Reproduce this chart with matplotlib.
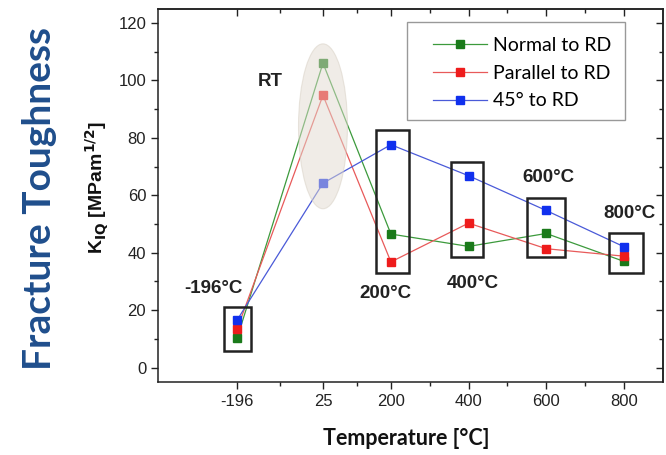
import matplotlib
matplotlib.use("Agg")
import matplotlib.pyplot as plt
from matplotlib.patches import Rectangle, Ellipse
from matplotlib.ticker import FixedLocator, MultipleLocator, NullFormatter

# Test temperatures [°C]
temperatures = [-196, 25, 200, 400, 600, 800]
tick_labels = ["-196", "25", "200", "400", "600", "800"]

# Fracture toughness K_IQ [MPa m^1/2] per loading orientation
normal_to_rd = [10.3, 106.0, 46.5, 42.2, 46.7, 37.0]
parallel_to_rd = [13.5, 94.8, 36.8, 50.3, 41.4, 38.8]
deg45_to_rd = [16.6, 64.2, 77.6, 66.8, 54.7, 42.1]

series_names = ["Normal to RD", "Parallel to RD", "45° to RD"]

# Grouping boxes around each temperature
box_low = [5.7, 33.0, 38.4, 38.4, 32.8]
box_high = [21.0, 82.7, 71.5, 59.2, 46.8]
box_captions = ["-196°C", "200°C", "400°C", "600°C", "800°C"]

W, H = 666, 455
fig = plt.figure(figsize=(W / 100, H / 100), dpi=100)
ax = fig.add_axes([0.2372, 0.1604, 0.7578, 0.8209])

line_colors = ["#3c9a3c", "#e85a5a", "#4a5ad8"]
marker_colors = ["#1a7a1a", "#ee1c1c", "#1030ee"]
for vals, name, lc, mc in zip([normal_to_rd, parallel_to_rd, deg45_to_rd],
                              series_names, line_colors, marker_colors):
    ax.plot(temperatures, vals, color=lc, lw=0.9, marker="s", ms=6,
            mfc=mc, mec=mc, label=name, zorder=3)

# Room temperature highlight
ax.add_patch(Ellipse((25, 84.0), 126, 57.4, facecolor="#e2dbd0",
                     edgecolor="#d6cec2", lw=0.8, alpha=0.5, zorder=4))
ax.text(-112, 99.6, "RT", fontsize=13.5, fontweight="bold",
        family="Liberation Sans", ha="center", va="center", color="#222222")

# Boxes and temperature captions
box_widths = [69, 86, 82, 98, 87]
box_centres = [-196, 204, 395, 599, 805]
caption_pos = [(-258, 27.5), (185, 25.7), (410, 29.3), (606, 66.2), (815, 53.7)]
for xc, w, lo, hi, cap, (tx, ty) in zip(box_centres, box_widths, box_low,
                                         box_high, box_captions, caption_pos):
    ax.add_patch(Rectangle((xc - w / 2, lo), w, hi - lo, fill=False,
                           edgecolor="#222222", lw=1.8, zorder=5))
    ax.text(tx, ty, cap, fontsize=13.5, fontweight="bold",
            family="Liberation Sans", ha="center", va="center",
            color="#222222")

ax.set_xlim(-400, 900)
ax.set_ylim(-5, 125)

mids = [(a + b) / 2 for a, b in zip(temperatures[:-1], temperatures[1:])]
ax.xaxis.set_major_locator(FixedLocator(temperatures))
ax.set_xticklabels(tick_labels)
ax.xaxis.set_minor_locator(FixedLocator(mids))
ax.yaxis.set_major_locator(MultipleLocator(20))
ax.yaxis.set_minor_locator(MultipleLocator(10))

ax.tick_params(which="both", direction="out", labelsize=12,
               color="#222222", labelcolor="#222222")
ax.tick_params(which="major", length=5, width=1)
ax.tick_params(which="minor", length=3, width=1)
for lab in ax.get_xticklabels() + ax.get_yticklabels():
    lab.set_family("Liberation Sans")

# Mirrored ticks on the top and right, pointing inward
top = ax.secondary_xaxis("top")
top.xaxis.set_major_locator(FixedLocator(temperatures))
top.xaxis.set_minor_locator(FixedLocator(mids))
top.xaxis.set_major_formatter(NullFormatter())
right = ax.secondary_yaxis("right")
right.yaxis.set_major_locator(MultipleLocator(20))
right.yaxis.set_minor_locator(MultipleLocator(10))
right.yaxis.set_major_formatter(NullFormatter())
for sec in (top, right):
    sec.tick_params(which="both", direction="in", color="#222222", width=1)
    sec.tick_params(which="major", length=5)
    sec.tick_params(which="minor", length=3)
    for sp in sec.spines.values():
        sp.set_linewidth(1.1)
        sp.set_color("#222222")

for sp in ax.spines.values():
    sp.set_linewidth(1.1)
    sp.set_color("#222222")

ax.set_xlabel("Temperature [°C]", fontsize=15.5, fontweight="bold",
              family="Lato", color="#111111")
ax.xaxis.set_label_coords(0.492, -0.122)
ax.set_ylabel(r"K$_{\mathbf{IQ}}$ [MPam$^{\mathbf{1/2}}$]", fontsize=14,
              fontweight="bold", family="Liberation Sans", color="#111111")
ax.yaxis.set_label_coords(-0.093, 0.519)

fig.text(0.06, 0.563, "Fracture Toughness", rotation=90, fontsize=28,
         fontweight="bold", family="Lato", color="#1f4e8c",
         ha="center", va="center")

# Legend frame, drawn as its own patch under the legend entries
ax.add_patch(Rectangle((407 / W, 1 - 120 / H), 218 / W, 98 / H,
                       transform=fig.transFigure, facecolor="white",
                       edgecolor="#999999", lw=1.0, zorder=6,
                       clip_on=False))
leg = ax.legend(loc="upper left", bbox_to_anchor=(433 / W, 1 - 37 / H),
                bbox_transform=fig.transFigure,
                prop={"family": "Lato", "size": 14}, frameon=False,
                handlelength=2.8, borderpad=0, borderaxespad=0,
                labelspacing=0.55, handletextpad=0.3)
leg.set_zorder(7)

fig.savefig("out.png", dpi=100)
